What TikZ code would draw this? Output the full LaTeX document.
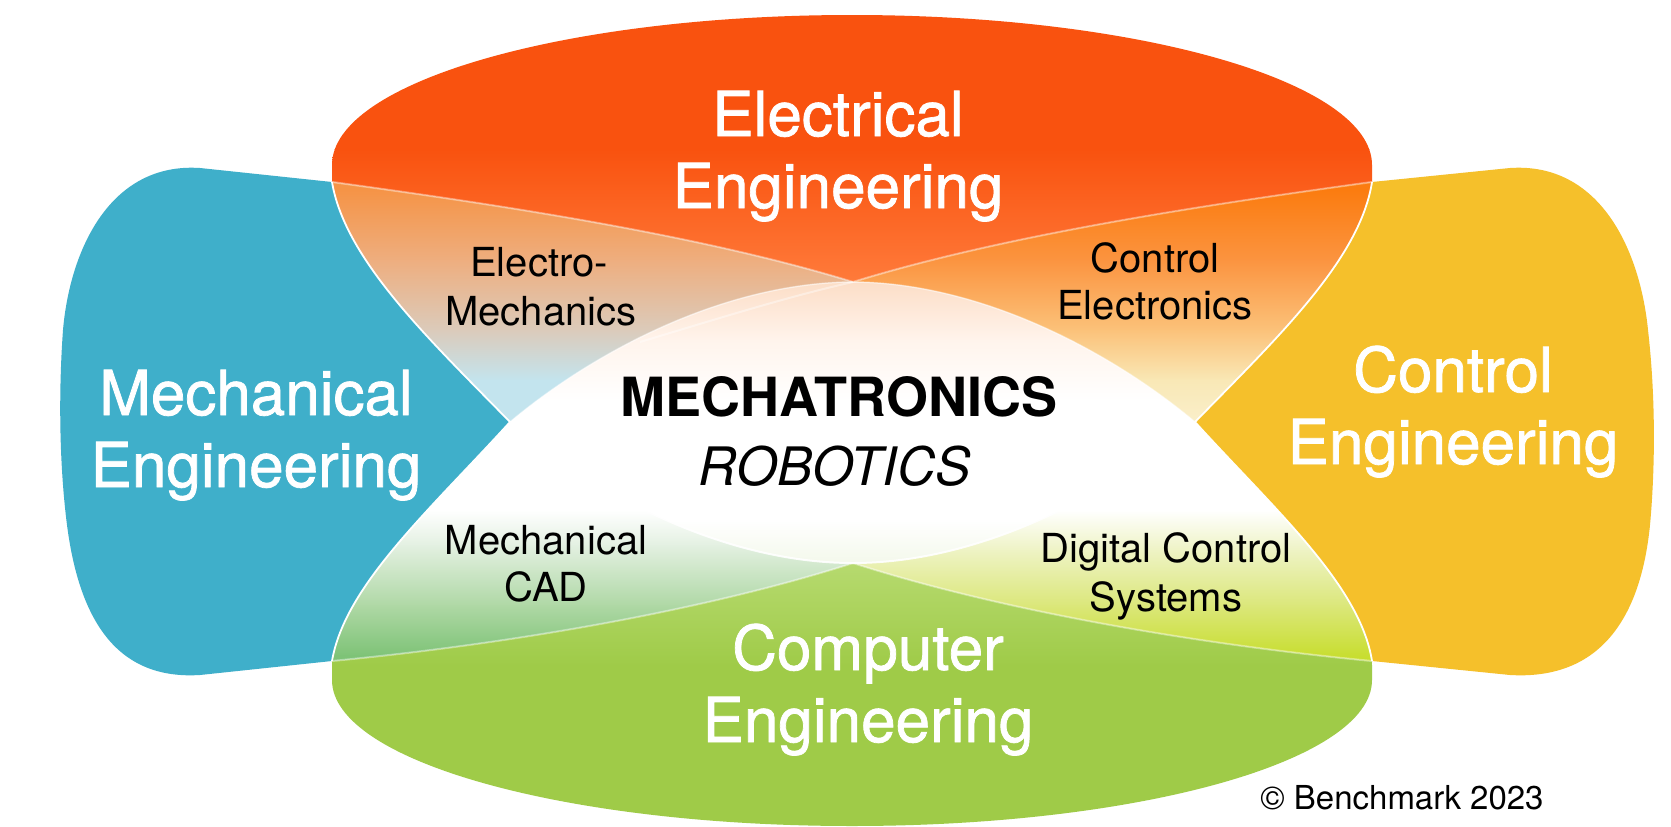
\documentclass[tikz,border=0pt]{standalone}
\usepackage{fontspec}
\setmainfont{TeX Gyre Heros}
\newfontfamily\heavyfont[FakeBold=1.2]{TeX Gyre Heros}
\definecolor{mblue}{HTML}{3FAFCA}
\definecolor{myellow}{HTML}{F5C02B}
\definecolor{mred}{HTML}{F9520F}
\definecolor{redlight}{HTML}{FF7D3D}
\definecolor{mgreen}{HTML}{9FCB48}
\definecolor{greenlight}{HTML}{B8DB72}
\definecolor{emA}{HTML}{F59447}
\definecolor{emB}{HTML}{EEAE7F}
\definecolor{emC}{HTML}{DBCBBB}
\definecolor{emD}{HTML}{C3E4EE}
\definecolor{ceA}{HTML}{FB7C10}
\definecolor{ceB}{HTML}{FB9440}
\definecolor{ceC}{HTML}{FBC27A}
\definecolor{ceD}{HTML}{F9E8B6}
\definecolor{ceE}{HTML}{FAF0CD}
\definecolor{mcA}{HTML}{E3F0E1}
\definecolor{mcB}{HTML}{AFD8A5}
\definecolor{mcC}{HTML}{7EC377}
\definecolor{dcA}{HTML}{EEF3C4}
\definecolor{dcB}{HTML}{DBE77A}
\definecolor{dcC}{HTML}{C6DD2A}
\definecolor{lensA}{HTML}{FCDDC6}
\definecolor{lensB}{HTML}{FFF4EC}
\definecolor{lensC}{HTML}{F3F8EA}
\newcommand{\gband}[4]{\shade[top color=#3,bottom color=#4] (0,#1) rectangle (1671,#2);}
\tikzset{
  biglabel/.style={text=white, font={\heavyfont\fontsize{62}{72}\selectfont}, inner sep=0pt, anchor=base},
  sublabel/.style={text=black, font={\fontsize{40}{45}\selectfont}, inner sep=0pt, anchor=base},
  corelabel/.style={text=black, inner sep=0pt, anchor=base},
  copylabel/.style={text=black, font={\fontsize{33}{38}\selectfont}, inner sep=0pt, anchor=base},
  whiteline/.style={draw=white, line width=1.8pt},
  faintline/.style={draw=white, draw opacity=0.4, line width=2pt},
}
\begin{document}
\begin{tikzpicture}[x=1pt,y=-1pt]
\useasboundingbox (0,0) rectangle (1671,827);
\fill[white] (0,0) rectangle (1671,827);
\coordinate (RL) at (332,182);
\coordinate (RR) at (1372,182);
\coordinate (GL) at (332,661);
\coordinate (GR) at (1372,661);
\coordinate (L) at (510,422);
\coordinate (R) at (1195,422);
\coordinate (T) at (853,282);
\coordinate (B) at (853,563);
% Mechanical (blue) blob
\fill[mblue] (RL) -- (200,168) .. controls (110,162) and (70,250) .. (63,330)
  .. controls (58,400) and (60,470) .. (67,525) .. controls (80,625) and (120,680) .. (200,675)
  -- (GL) .. controls (345,585) and (430,510) .. (L) .. controls (430,340) and (345,260) .. (RL) -- cycle;
% Control (yellow) blob
\fill[myellow] (RR) -- (1510,168) .. controls (1600,162) and (1640,250) .. (1648,330)
  .. controls (1656,400) and (1655,470) .. (1650,525) .. controls (1640,625) and (1595,680) .. (1510,675)
  -- (GR) .. controls (1360,585) and (1275,510) .. (R) .. controls (1275,340) and (1360,260) .. (RR) -- cycle;
% Electrical (red)
\begin{scope}
\clip (RL) -- (332,165) .. controls (332,82) and (565,15) .. (852,15) .. controls (1139,15) and (1372,82) .. (1372,165)
  -- (RR) .. controls (1205,205) and (1005,235) .. (T) .. controls (700,235) and (500,205) .. (RL) -- cycle;
\fill[mred] (0,0) rectangle (1671,150);
\gband{149}{290}{mred}{redlight}
\end{scope}
% Computer (green)
\begin{scope}
\clip (GL) -- (332,680) .. controls (332,761) and (565,826) .. (852,826) .. controls (1139,826) and (1372,761) .. (1372,680)
  -- (GR) .. controls (1205,645) and (1005,612) .. (B) .. controls (700,612) and (500,645) .. (GL) -- cycle;
\gband{555}{666}{greenlight}{mgreen}
\fill[mgreen] (0,665) rectangle (1671,830);
\end{scope}
% Electro-Mechanics
\begin{scope}
\clip (RL) .. controls (500,205) and (700,235) .. (T) .. controls (720,283) and (590,355) .. (L)
  .. controls (430,340) and (345,260) .. (RL) -- cycle;
\fill[emA] (0,150) rectangle (1671,191);
\gband{190}{261}{emA}{emB}
\gband{260}{331}{emB}{emC}
\gband{330}{381}{emC}{emD}
\fill[emD] (0,380) rectangle (1671,430);
\end{scope}
% Control Electronics
\begin{scope}
\clip (RR) .. controls (1205,205) and (1005,235) .. (T) .. controls (985,283) and (1115,355) .. (R)
  .. controls (1275,340) and (1360,260) .. (RR) -- cycle;
\fill[ceA] (0,150) rectangle (1671,191);
\gband{190}{261}{ceA}{ceB}
\gband{260}{331}{ceB}{ceC}
\gband{330}{381}{ceC}{ceD}
\gband{380}{430}{ceD}{ceE}
\end{scope}
% Mechanical CAD
\begin{scope}
\clip (L) .. controls (590,490) and (720,563) .. (B) .. controls (700,612) and (500,645) .. (GL)
  .. controls (345,585) and (430,510) .. (L) -- cycle;
\fill[white] (0,400) rectangle (1671,511);
\gband{510}{546}{white}{mcA}
\gband{545}{606}{mcA}{mcB}
\gband{605}{656}{mcB}{mcC}
\fill[mcC] (0,655) rectangle (1671,690);
\end{scope}
% Digital Control Systems
\begin{scope}
\clip (R) .. controls (1115,490) and (985,563) .. (B) .. controls (1005,612) and (1205,645) .. (GR)
  .. controls (1360,585) and (1275,510) .. (R) -- cycle;
\fill[white] (0,400) rectangle (1671,511);
\gband{510}{551}{white}{dcA}
\gband{550}{606}{dcA}{dcB}
\gband{605}{661}{dcB}{dcC}
\fill[dcC] (0,660) rectangle (1671,690);
\end{scope}
% central lens
\begin{scope}
\clip (L) .. controls (590,355) and (720,283) .. (T) .. controls (985,283) and (1115,355) .. (R)
  .. controls (1115,490) and (985,563) .. (B) .. controls (720,563) and (590,490) .. (L) -- cycle;
\gband{280}{341}{lensA}{lensB}
\gband{340}{401}{lensB}{white}
\fill[white] (0,400) rectangle (1671,521);
\gband{520}{566}{white}{lensC}
\end{scope}
% boundary lines
\draw[faintline] (RL) .. controls (500,205) and (700,235) .. (T) .. controls (1005,235) and (1205,205) .. (RR);
\draw[faintline] (GL) .. controls (500,645) and (700,612) .. (B) .. controls (1005,612) and (1205,645) .. (GR);
\draw[faintline] (T) .. controls (790,296) and (720,318) .. (640,342);
\draw[draw=white, draw opacity=0.5, line width=1.5pt] (L) .. controls (590,355) and (720,283) .. (T) .. controls (985,283) and (1115,355) .. (R);
\draw[draw=white, draw opacity=0.9, line width=2pt] (L) .. controls (590,490) and (720,563) .. (B) .. controls (985,563) and (1115,490) .. (R);
\draw[whiteline] (RL) .. controls (345,260) and (430,340) .. (L) .. controls (430,510) and (345,585) .. (GL);
\draw[whiteline] (RR) .. controls (1360,260) and (1275,340) .. (R) .. controls (1275,510) and (1360,585) .. (GR);
% labels
\node[biglabel] (ee1) at (838,136) {Electrical};
\node[biglabel] (ee2) at (838,208) {Engineering};
\node[biglabel] (me1) at (256,415) {Mechanical};
\node[biglabel] (me2) at (256,487) {Engineering};
\node[biglabel] (cen1) at (1453,392) {Control};
\node[biglabel] (cen2) at (1453,464) {Engineering};
\node[biglabel] (cpe1) at (868,670) {Computer};
\node[biglabel] (cpe2) at (868,742) {Engineering};
\node[sublabel] (elm1) at (539,276) {Electro-};
\node[sublabel] (elm2) at (541,325) {Mechanics};
\node[sublabel] (cel1) at (1155,272) {Control};
\node[sublabel] (cel2) at (1155,319) {Electronics};
\node[sublabel] (mcad1) at (546,554) {Mechanical};
\node[sublabel] (mcad2) at (546,601) {CAD};
\node[sublabel] (dcs1) at (1166,562) {Digital Control};
\node[sublabel] (dcs2) at (1166,611) {Systems};
\node[corelabel, font={\fontsize{54}{60}\selectfont\bfseries}] (mech) at (839,416) {MECHATRONICS};
\node[corelabel, font={\fontsize{53}{60}\selectfont\itshape}] (robo) at (835,485) {ROBOTICS};
\node[copylabel] (copy) at (1402,809) {© Benchmark 2023};
\end{tikzpicture}
\end{document}
